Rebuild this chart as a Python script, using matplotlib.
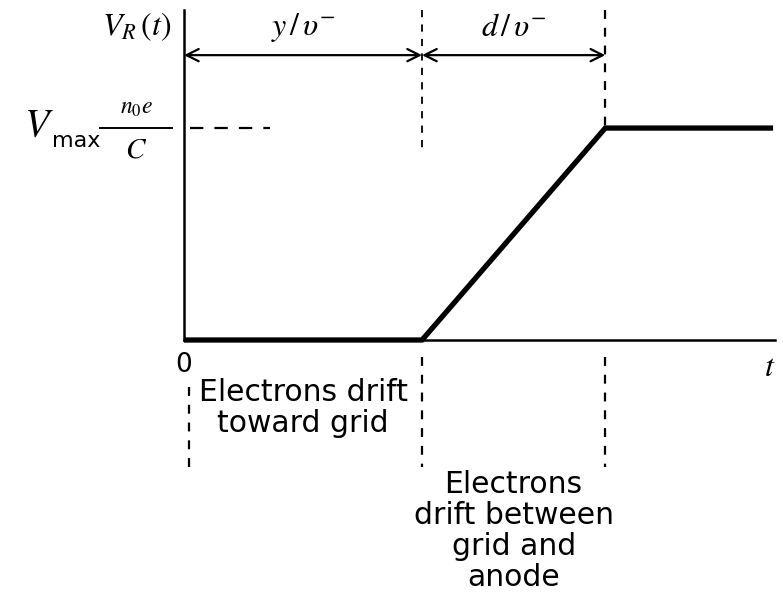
import numpy as np
import matplotlib
matplotlib.use('Agg')
import matplotlib.pyplot as plt

plt.rcParams['mathtext.fontset'] = 'stix'
plt.rcParams['font.family'] = 'DejaVu Sans'

# drift times (units of y/v-) and the pulse shape V_R(t)/Vmax
t_grid = 1.0          # y/v-
t_anode = 1.77        # y/v- + d/v-
t_pulse = [0.0, t_grid, t_anode, 2.475]
v_pulse = [0.0, 0.0, 1.0, 1.0]

span_labels = [r'$y\,/\,\upsilon^{-}$', r'$d\,/\,\upsilon^{-}$']
phase_labels = ['Electrons drift\ntoward grid',
                'Electrons\ndrift between\ngrid and\nanode']

fig = plt.figure(figsize=(7.83, 5.95), dpi=100)
ax = fig.add_axes([184 / 783, 255 / 595, 591 / 783, 330 / 595])
ax.set_xlim(0, 2.483)
ax.set_ylim(0, 1.557)
for s in ['top', 'right']:
    ax.spines[s].set_visible(False)
for s in ['left', 'bottom']:
    ax.spines[s].set_linewidth(1.8)
ax.set_xticks([])
ax.set_yticks([])

# the pulse
ax.plot(t_pulse, v_pulse, color='black', lw=3.8, solid_capstyle='butt',
        solid_joinstyle='miter', clip_on=False)

dash = (0, (4, 4))
# guides at grid and anode times
ax.plot([t_grid, t_grid], [1.557, 0.9], color='black', lw=1.3, ls=dash, clip_on=False)
ax.plot([t_anode, t_anode], [1.557, 1.0], color='black', lw=1.6, ls=dash, clip_on=False)
for tx in [0.02, t_grid, t_anode]:
    top = -0.08 if tx > 0.1 else -0.22
    ax.plot([tx, tx], [top, -0.6], color='black', lw=1.6, ls=dash, clip_on=False)

# Vmax level
ax.plot([0.025, 0.36], [1.0, 1.0], color='black', lw=1.6, ls=(0, (6, 5)), clip_on=False)
ax.plot([-0.355, -0.05], [1.0, 1.0], color='black', lw=1.4, clip_on=False)

# drift-time spans
y_arr = 1.344
for a, b, lab in zip([0.0, t_grid], [t_grid, t_anode], span_labels):
    ax.annotate('', xy=(a, y_arr), xytext=(b, y_arr),
                arrowprops=dict(arrowstyle='<->', lw=1.6, color='black',
                                mutation_scale=22, shrinkA=0, shrinkB=0),
                annotation_clip=False)
    ax.text((a + b) / 2, 1.475, lab, ha='center', va='center', fontsize=23)

# axis labels
ax.text(-0.2, 1.48, r'$V_R\,(t)$', ha='center', va='center', fontsize=23)
ax.text(-0.548, 1.01, r'$V$', ha='right', va='center', fontsize=29)
ax.text(-0.555, 0.94, 'max', ha='left', va='center', fontsize=16)
ax.text(-0.2, 1.1, r'$n_0e$', ha='center', va='center', fontsize=17)
ax.text(-0.2, 0.9, r'$C$', ha='center', va='center', fontsize=21)
ax.text(0.0, -0.118, '0', ha='center', va='center', fontsize=19)
ax.text(2.46, -0.13, r'$t$', ha='center', va='center', fontsize=23)

# phase descriptions
ax.text(t_grid / 2, -0.32, phase_labels[0], ha='center', va='center',
        fontsize=21.5, linespacing=1.08)
ax.text((t_grid + t_anode) / 2, -0.9, phase_labels[1], ha='center', va='center',
        fontsize=21.5, linespacing=1.08)

fig.savefig('out.png', dpi=100)
